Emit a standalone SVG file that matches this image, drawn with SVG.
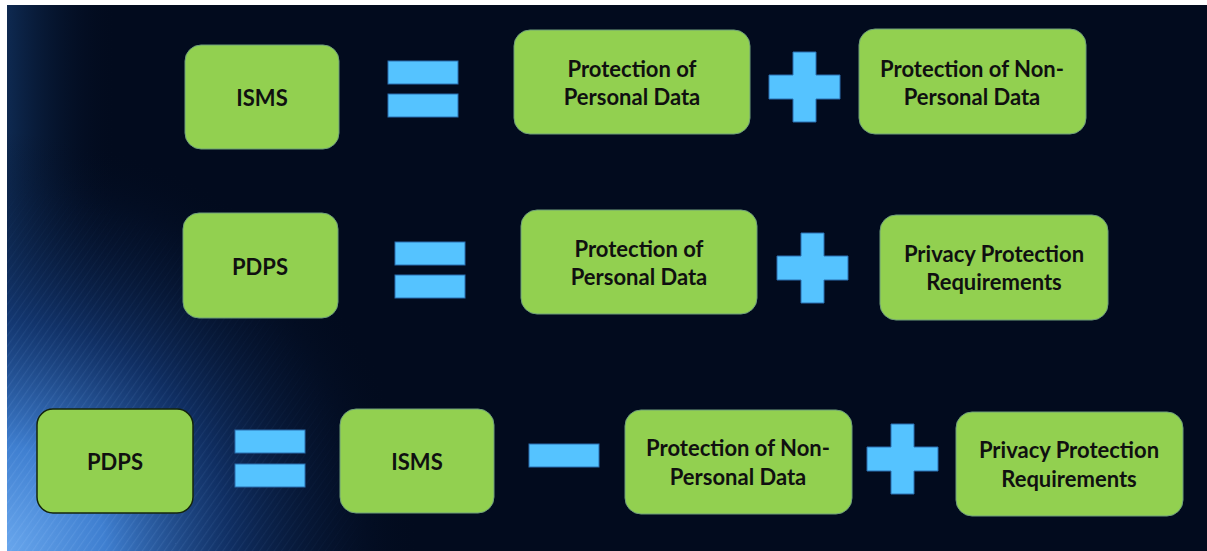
<svg xmlns="http://www.w3.org/2000/svg" width="1207" height="551" viewBox="0 0 1207 551">
  <defs>
    <radialGradient id="glow" cx="0" cy="551" r="420" gradientUnits="userSpaceOnUse">
      <stop offset="0" stop-color="#6aa8ee"/>
      <stop offset="0.25" stop-color="#3f7fd0"/>
      <stop offset="0.55" stop-color="#163e80" stop-opacity="0.7"/>
      <stop offset="1" stop-color="#020b1e" stop-opacity="0"/>
    </radialGradient>
    <linearGradient id="edge" x1="0" y1="0" x2="1" y2="0">
      <stop offset="0" stop-color="#1d4f8f" stop-opacity="0.45"/>
      <stop offset="1" stop-color="#020b1e" stop-opacity="0"/>
    </linearGradient>
    <pattern id="streaks" width="6" height="6" patternUnits="userSpaceOnUse" patternTransform="rotate(35)">
      <rect width="1.2" height="6" fill="#9cc8ff" opacity="0.18"/>
    </pattern>
    <radialGradient id="streakMaskGrad" cx="0" cy="551" r="380" gradientUnits="userSpaceOnUse">
      <stop offset="0" stop-color="#fff"/>
      <stop offset="1" stop-color="#000"/>
    </radialGradient>
    <mask id="streakMask">
      <rect x="0" y="0" width="1207" height="551" fill="url(#streakMaskGrad)"/>
    </mask>
    <path id="plus" d="M24,0 H47 V23 H71 V47 H47 V70 H24 V47 H0 V23 H24 Z"/>
    <rect id="bar" width="70" height="23"/>
  </defs>
  <style>
    .box { fill: #92d050; stroke: #6f9f7a; stroke-width: 1; }
    .box.dark { stroke: #14240c; stroke-width: 1.5; }
    .op { fill: #55c3ff; stroke: #2a6fb0; stroke-width: 1; }
    text { font-family: Lato, "Open Sans", "Liberation Sans", sans-serif; font-weight: bold; font-size: 22px; fill: #101010; text-anchor: middle; dominant-baseline: central; }
  </style>

  <!-- page margin and backdrop -->
  <rect x="0" y="0" width="1207" height="551" fill="#ffffff"/>
  <g id="backdrop">
    <rect x="7" y="5" width="1200" height="546" fill="#020b1e"/>
    <rect x="7" y="5" width="110" height="546" fill="url(#edge)"/>
    <rect x="7" y="5" width="1200" height="546" fill="url(#glow)"/>
    <rect x="7" y="5" width="1200" height="546" fill="url(#streaks)" mask="url(#streakMask)"/>
  </g>

  <!-- row 1: ISMS = Protection of Personal Data + Protection of Non-Personal Data -->
  <g id="r1-isms">
    <rect class="box" x="185" y="45" width="154" height="104" rx="16"/>
    <text x="262" y="97">ISMS</text>
  </g>
  <g id="r1-personal">
    <rect class="box" x="514" y="30" width="236" height="104" rx="16"/>
    <text x="632" y="68">Protection of</text>
    <text x="632" y="96">Personal Data</text>
  </g>
  <g id="r1-nonpersonal">
    <rect class="box" x="859" y="29" width="227" height="105" rx="16"/>
    <text x="972" y="68">Protection of Non-</text>
    <text x="972" y="96">Personal Data</text>
  </g>

  <!-- row 2: PDPS = Protection of Personal Data + Privacy Protection Requirements -->
  <g id="r2-pdps">
    <rect class="box" x="183" y="213" width="155" height="105" rx="16"/>
    <text x="260" y="266">PDPS</text>
  </g>
  <g id="r2-personal">
    <rect class="box" x="521" y="210" width="236" height="104" rx="16"/>
    <text x="639" y="248">Protection of</text>
    <text x="639" y="276">Personal Data</text>
  </g>
  <g id="r2-privacy">
    <rect class="box" x="880" y="215" width="228" height="105" rx="16"/>
    <text x="994" y="253">Privacy Protection</text>
    <text x="994" y="281">Requirements</text>
  </g>

  <!-- row 3: PDPS = ISMS − Protection of Non-Personal Data + Privacy Protection Requirements -->
  <g id="r3-pdps">
    <rect class="box dark" x="37" y="409" width="156" height="104" rx="16"/>
    <text x="115" y="461">PDPS</text>
  </g>
  <g id="r3-isms">
    <rect class="box" x="340" y="409" width="154" height="104" rx="16"/>
    <text x="417" y="461">ISMS</text>
  </g>
  <g id="r3-nonpersonal">
    <rect class="box" x="625" y="410" width="227" height="104" rx="16"/>
    <text x="738" y="447">Protection of Non-</text>
    <text x="738" y="476">Personal Data</text>
  </g>
  <g id="r3-privacy">
    <rect class="box" x="956" y="412" width="227" height="104" rx="16"/>
    <text x="1069" y="449">Privacy Protection</text>
    <text x="1069" y="478">Requirements</text>
  </g>

  <!-- operator symbols between the terms -->
  <g id="operators" class="op">
    <use href="#bar" x="388" y="61"/>
    <use href="#bar" x="388" y="94"/>
    <use href="#plus" x="769" y="52"/>

    <use href="#bar" x="395" y="242"/>
    <use href="#bar" x="395" y="275"/>
    <use href="#plus" x="777" y="233"/>

    <use href="#bar" x="235" y="430"/>
    <use href="#bar" x="235" y="464"/>
    <use href="#bar" x="529" y="444"/>
    <use href="#plus" x="867" y="424"/>
  </g>
</svg>
